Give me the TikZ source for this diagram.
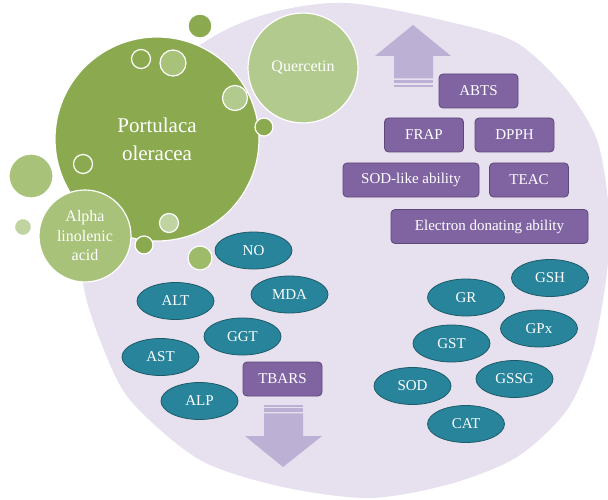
\documentclass[tikz,border=0pt]{standalone}
\usepackage{fontspec}
\setmainfont{Liberation Serif}
\newfontfamily\pofam{Liberation Serif}
\usetikzlibrary{shapes.geometric}
\definecolor{pobg}{RGB}{231,224,238}
\definecolor{poarrow}{RGB}{188,176,212}
\definecolor{podark}{RGB}{139,170,80}
\definecolor{pomid}{RGB}{158,187,106}
\definecolor{poalpha}{RGB}{168,194,122}
\definecolor{polight}{RGB}{179,202,142}
\definecolor{popale}{RGB}{192,212,162}
\definecolor{popurple}{RGB}{128,100,162}
\definecolor{popurpleedge}{RGB}{93,72,122}
\definecolor{poteal}{RGB}{40,132,155}
\definecolor{potealedge}{RGB}{30,90,104}
\newcommand{\pofont}[2]{\pofam\fontsize{#1}{#2}\selectfont}
\tikzset{
  assay/.style={draw=popurpleedge,fill=popurple,rounded corners=4pt,line width=.8pt,
    minimum width=79pt,minimum height=34pt,inner sep=2pt,text=white,font=\pofont{15}{18}},
  marker/.style={ellipse,draw=potealedge,fill=poteal,line width=.8pt,
    minimum width=77pt,minimum height=37pt,inner sep=0pt,text=white,font=\pofont{15}{18}},
  bubble/.style={circle,draw=white,line width=1.2pt,inner sep=0pt,text=white,align=center},
}

\begin{document}
\begin{tikzpicture}[x=1pt,y=-1pt]
  \useasboundingbox (0,0) rectangle (608,500);
  % lavender field
  \fill[pobg] plot[smooth cycle] coordinates {(347,3) (450,22) (517,43) (567,90) (597,140)
    (608,200) (609,240) (606,280) (593,350) (567,410) (517,457) (450,484) (370,498)
    (283,487) (200,460) (130,400) (100,340) (83,283) (82,220) (110,120) (203,43) (270,13)};
  % up and down arrows
  \fill[poarrow] (413,25) -- (451,56) -- (433,56) -- (433,78.3) -- (394,78.3) -- (394,56)
    -- (375,56) -- cycle;
  \fill[poarrow] (394,80) rectangle (433,83.3);
  \fill[poarrow] (394,85) rectangle (433,86.7);
  \fill[poarrow] (283,467) -- (322,436) -- (303,436) -- (303,413.3) -- (264,413.3) -- (264,436)
    -- (245,436) -- cycle;
  \fill[poarrow] (264,411.7) rectangle (303,408.3);
  \fill[poarrow] (264,406.7) rectangle (303,405);
  % green bubbles
  \node[bubble,fill=podark,minimum size=204pt,font=\pofont{21}{28}] (portulaca) at (157,139)
    {Portulaca\\oleracea};
  \node[bubble,fill=polight,minimum size=110pt,font=\pofont{16}{19}] (quercetin) at (303,68)
    {Quercetin};
  \node[bubble,fill=poalpha,minimum size=92pt,font=\pofont{16}{19.5}] (alpha) at (85,236)
    {Alpha\\linolenic\\acid};
  \foreach \nm/\x/\y/\d/\col in {b1/200/26/24/podark, b2/141/59/19/podark, b3/173/63/26/poalpha,
    b4/235/98/25/polight, b5/264/127/18/podark, b6/83/164/19/podark, b7/169/223/19/popale,
    b8/144/245/18/podark, b9/200/258/24/pomid, b10/31/176/44/poalpha, b11/23/227/17/popale}
    \node[bubble,fill=\col,minimum size=\d pt] (\nm) at (\x,\y) {};
  % assays
  \node[assay] (abts) at (478.5,91) {ABTS};
  \node[assay] (frap) at (424,135) {FRAP};
  \node[assay] (dpph) at (514.5,135) {DPPH};
  \node[assay,minimum width=136pt] (sodlike) at (411,180) {SOD-like ability};
  \node[assay] (teac) at (529,180) {TEAC};
  \node[assay,minimum width=197pt] (edab) at (489.5,226.5) {Electron donating ability};
  \node[assay] (tbars) at (282.5,379) {TBARS};
  % markers
  \node[marker] (no) at (253.5,250.5) {NO};
  \node[marker] (alt) at (175.5,301) {ALT};
  \node[marker] (mda) at (289.5,294.5) {MDA};
  \node[marker] (ggt) at (242.5,336.5) {GGT};
  \node[marker] (ast) at (160.5,357) {AST};
  \node[marker] (alp) at (199.5,401) {ALP};
  \node[marker] (gsh) at (550,278) {GSH};
  \node[marker] (gr) at (466,297.5) {GR};
  \node[marker] (gpx) at (539,328.5) {GPx};
  \node[marker] (gst) at (451.5,343.5) {GST};
  \node[marker] (gssg) at (514.5,379) {GSSG};
  \node[marker] (sod) at (412.5,386) {SOD};
  \node[marker] (cat) at (466,424) {CAT};
\end{tikzpicture}
\end{document}
